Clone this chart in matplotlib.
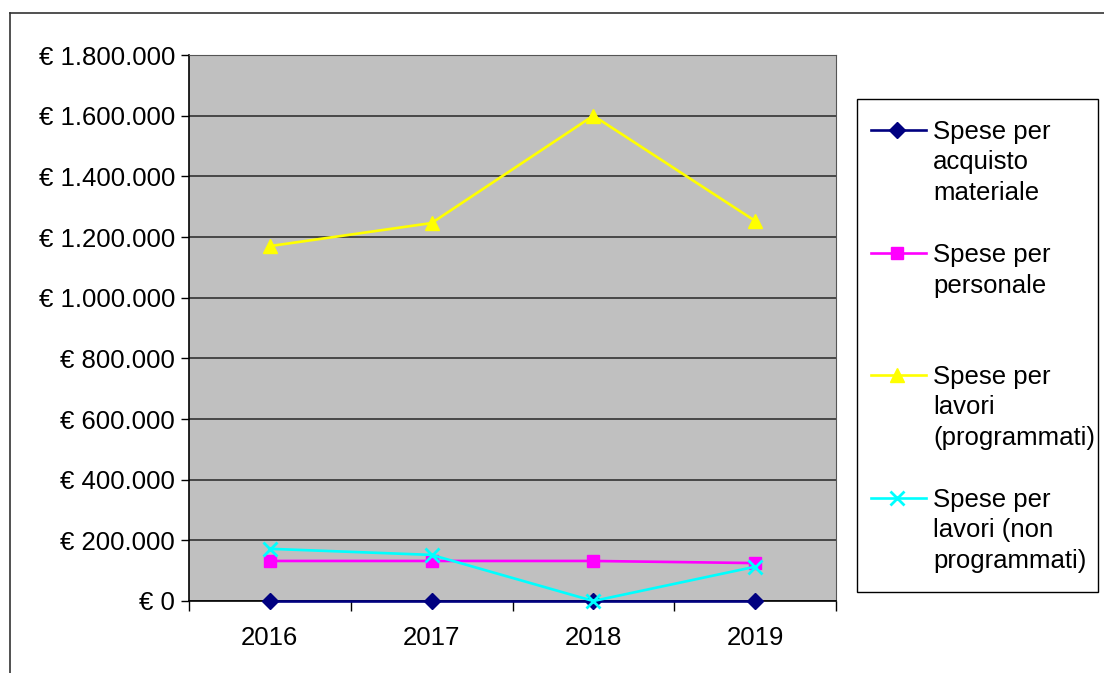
import matplotlib.pyplot as plt
from matplotlib.lines import Line2D
from matplotlib.patches import Rectangle
from matplotlib.ticker import FuncFormatter

plt.rcParams['font.family'] = ['Liberation Sans', 'DejaVu Sans']

# Data
years = ['2016', '2017', '2018', '2019']
materiale = [0, 0, 0, 0]
personale = [132000, 132000, 132000, 125000]
lavori_prog = [1170000, 1246000, 1600000, 1253000]
lavori_non_prog = [172000, 152000, 0, 113000]

series = [
    (materiale, '#000080', 'D', 8.5, ['Spese per', 'acquisto', 'materiale'], 130),
    (personale, '#FF00FF', 's', 8, ['Spese per', 'personale'], 253),
    (lavori_prog, '#FFFF00', '^', 10.5, ['Spese per', 'lavori', '(programmati)'], 375),
    (lavori_non_prog, '#00FFFF', 'x', 10, ['Spese per', 'lavori (non', 'programmati)'], 498),
]

W, H = 1104, 673
fx = lambda px: px / W
fy = lambda py: 1 - py / H

fig = plt.figure(figsize=(W / 100, H / 100), dpi=100)
ax = fig.add_axes([fx(189), fy(601), fx(836) - fx(189), fy(55) - fy(601)])
ax.set_facecolor('#C0C0C0')

x = list(range(len(years)))
for vals, col, mk, ms, _, _ in series:
    ax.plot(x, vals, color=col, marker=mk, markersize=ms, linewidth=1.9,
            markeredgewidth=2 if mk == 'x' else 1, markeredgecolor=col,
            clip_on=False, zorder=3)

ax.set_xlim(-0.5, len(years) - 0.5)
ax.set_ylim(0, 1800000)
ax.set_yticks(range(0, 1800001, 200000))
ax.yaxis.set_major_formatter(FuncFormatter(
    lambda v, p: '€ ' + f'{int(v):,}'.replace(',', '.')))
ax.grid(axis='y', color='#333333', linewidth=1.2, zorder=1)
ax.set_axisbelow(True)

# category ticks between bins, labels in the middle
ax.set_xticks([i - 0.5 for i in range(len(years) + 1)])
ax.set_xticklabels([])
ax.set_xticks(x, minor=True)
ax.set_xticklabels(years, minor=True)
ax.tick_params(axis='x', which='minor', length=0, pad=18, labelsize=18.5)
ax.tick_params(axis='x', which='major', length=7, width=1, color='black')
ax.tick_params(axis='y', length=6, width=1, color='black', pad=4, labelsize=18.5)

for s in ['top', 'right']:
    ax.spines[s].set_color('#555555')
for s in ['left', 'bottom']:
    ax.spines[s].set_color('black')
    ax.spines[s].set_linewidth(1.2)

# outer chart border (cropped)
fig.add_artist(Line2D([fx(10), 1.01], [fy(13), fy(13)], transform=fig.transFigure,
                      color='#333333', linewidth=1.2))
fig.add_artist(Line2D([fx(10), fx(10)], [fy(13), -0.01], transform=fig.transFigure,
                      color='#333333', linewidth=1.2))

# legend
fig.add_artist(Rectangle((fx(857), fy(592)), fx(1098) - fx(857), fy(99) - fy(592),
                         transform=fig.transFigure, fill=False,
                         edgecolor='black', linewidth=1))
for vals, col, mk, ms, lines, ytop in series:
    fig.add_artist(Line2D([fx(871), fx(926)], [fy(ytop), fy(ytop)],
                          transform=fig.transFigure, color=col, linewidth=1.9))
    fig.add_artist(Line2D([fx(897)], [fy(ytop)], transform=fig.transFigure,
                          color=col, marker=mk, markersize=ms,
                          markeredgewidth=2 if mk == 'x' else 1,
                          markeredgecolor=col))
    for i, t in enumerate(lines):
        fig.text(fx(933), fy(ytop + i * 30.5 + 9), t, fontsize=18.5,
                 va='baseline', ha='left')

fig.savefig('out.png', dpi=100, facecolor='white')
